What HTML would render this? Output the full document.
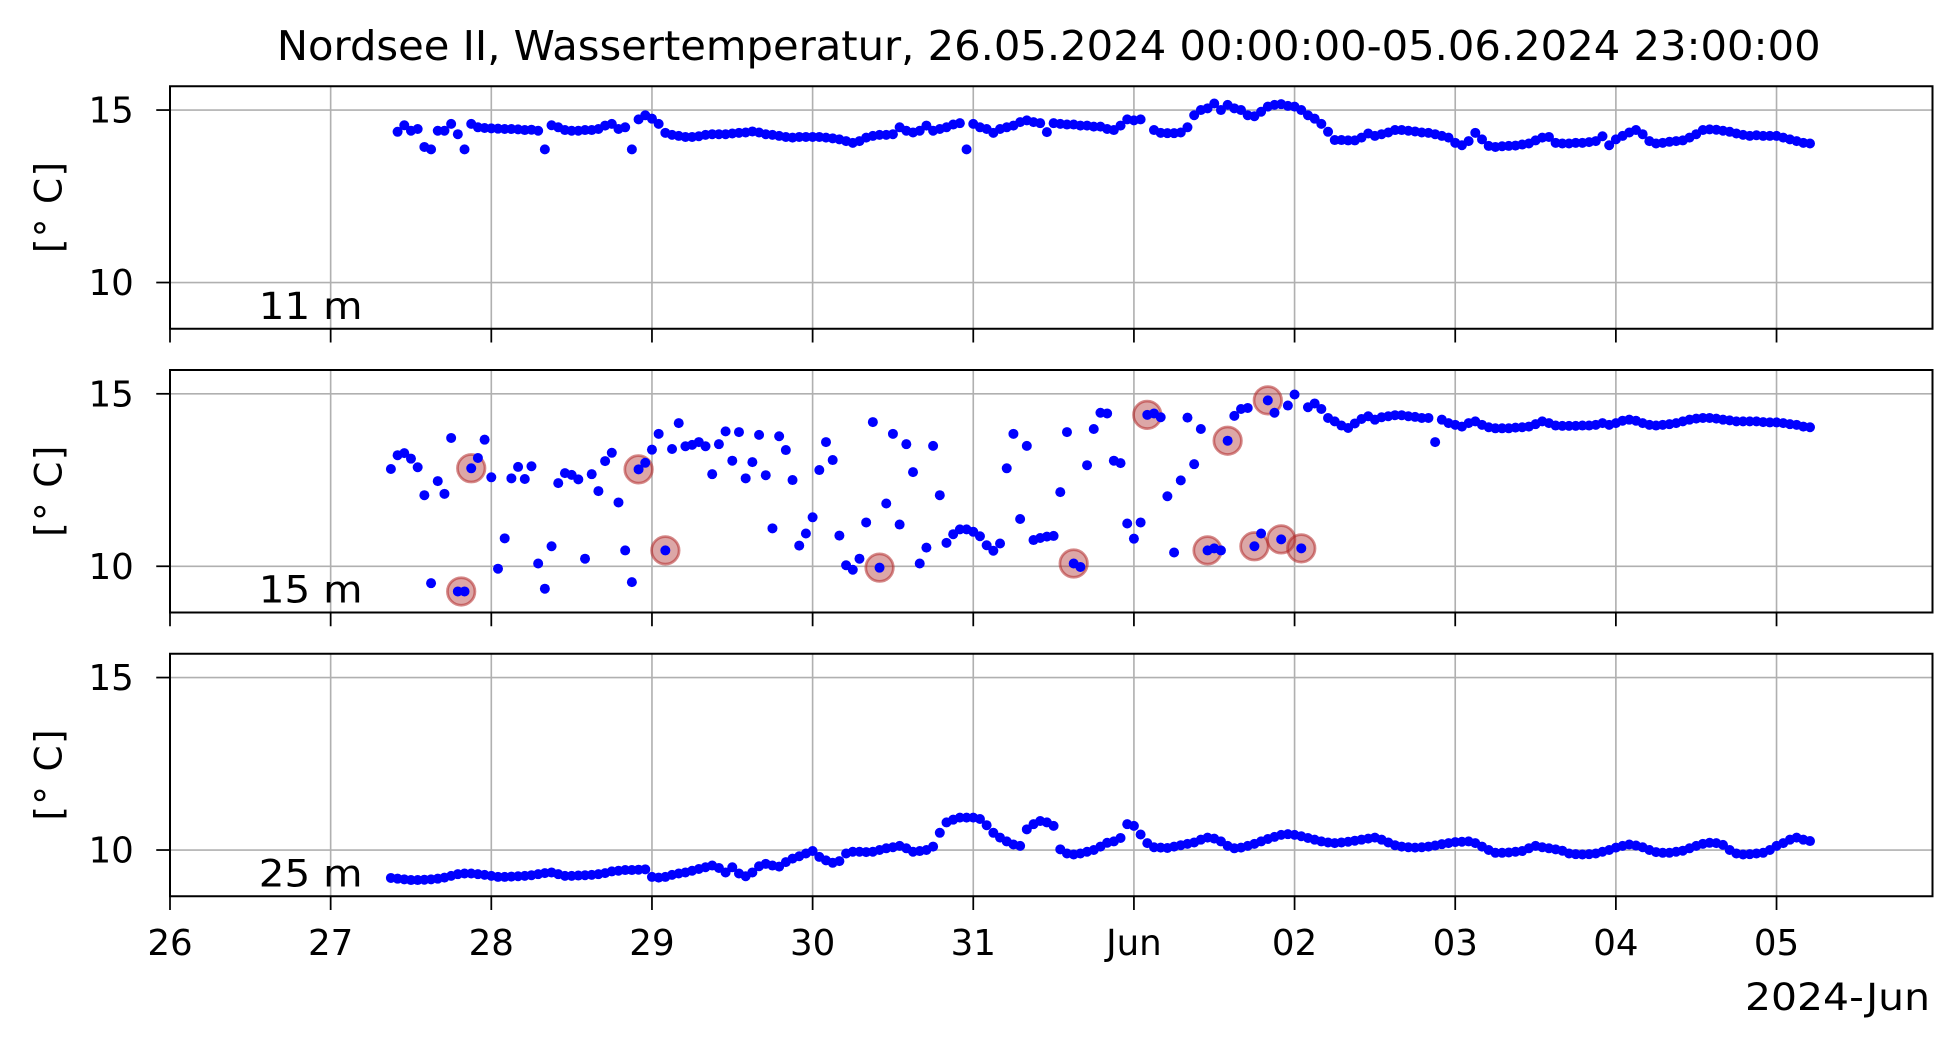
<!DOCTYPE html>
<html><head><meta charset="utf-8"><style>
html,body{margin:0;padding:0;background:#fff;}
svg{display:block;font-family:"DejaVu Sans","Liberation Sans",sans-serif;}
</style></head><body>
<svg id="chart" width="1958" height="1049" viewBox="0 0 1566.4 839.2" xmlns="http://www.w3.org/2000/svg">
<rect width="1566.4" height="839.2" fill="#fff"/>
<text x="839" y="48" font-size="33" text-anchor="middle" textLength="1235" lengthAdjust="spacingAndGlyphs">Nordsee II, Wassertemperatur, 26.05.2024 00:00:00-05.06.2024 23:00:00</text>
<g id="plots"></g>
</svg>
<script>
const tickLabels = ["26","27","28","29","30","31","Jun","02","03","04","05"];
const yTicks = [10, 15];
const depthLabels = ["11 m","15 m","25 m"];

const p1Start = 34;
const p1Vals = [14.37,14.56,14.4,14.45,13.93,13.86,14.4,14.4,14.6,14.3,13.86,14.6,14.5,14.48,
14.47,14.46,14.45,14.45,14.44,14.42,14.43,14.4,13.86,14.56,14.5,14.42,
14.4,14.4,14.42,14.42,14.45,14.55,14.6,14.45,14.5,13.86,14.73,14.85,
14.75,14.6,14.34,14.28,14.25,14.22,14.22,14.24,14.28,14.3,14.3,14.3,
14.32,14.34,14.35,14.38,14.35,14.3,14.28,14.25,14.22,14.2,14.22,14.22,
14.22,14.22,14.2,14.18,14.15,14.1,14.05,14.1,14.2,14.25,14.28,14.28,
14.3,14.5,14.4,14.35,14.4,14.55,14.4,14.45,14.5,14.58,14.62,13.86,
14.6,14.5,14.45,14.34,14.45,14.5,14.55,14.65,14.7,14.65,14.62,14.36,
14.62,14.6,14.58,14.58,14.55,14.55,14.52,14.52,14.45,14.42,14.55,14.73,
14.7,14.73,null,14.42,14.34,14.33,14.33,14.35,14.5,14.85,15.0,15.05,
15.19,15.0,15.15,15.05,15.0,14.85,14.82,14.95,15.1,15.15,15.17,15.12,
15.1,15.0,14.85,14.75,14.6,14.37,14.13,14.13,14.12,14.12,14.2,14.32,
14.25,14.3,14.35,14.42,14.42,14.4,14.38,14.35,14.34,14.3,14.25,14.2,
14.05,13.98,14.1,14.34,14.15,13.96,13.93,13.95,13.96,13.97,14.0,14.03,
14.12,14.2,14.22,14.05,14.03,14.03,14.05,14.05,14.07,14.1,14.24,13.98,
14.15,14.25,14.35,14.42,14.3,14.1,14.03,14.05,14.08,14.1,14.12,14.2,
14.3,14.42,14.44,14.43,14.4,14.37,14.32,14.28,14.25,14.27,14.25,14.25,
14.25,14.2,14.15,14.1,14.05,14.03];

const p2Hours = [33,34,35,36,37,38,39,40,41,42,43,44,45,46,47,48,49,50,51,52,53,54,55,56,57,58,59,60,61,62,63,64,65,66,67,68,69,70,71,72,73,74,75,76,77,78,79,80,81,82,83,84,85,86,87,88,89,90,91,92,93,94,95,96,97,98,99,100,101,102,103,104,105,106,107,108,109,110,111,112,113,114,115,116,117,118,119,120,121,122,123,124,125,126,127,128,129,130,131,132,133,134,135,136,137,138,139,140,141,142,143,144,145,146,147,148,149,150,151,152,153,154,155,156,157,158,159,160,161,162,163,164,165,166,167,168,169,170,171,172,173,174,175,176,177,178,179];
const p2Vals = [12.82,13.22,13.28,13.12,12.87,12.06,9.51,12.47,12.10,13.72,9.27,9.27,12.84,13.14,13.67,12.58,9.93,10.81,12.55,12.88,12.53,12.90,10.08,9.35,10.58,12.41,12.70,12.65,12.52,10.22,12.67,12.18,13.05,13.29,11.85,10.46,9.54,12.81,13.00,13.38,13.84,10.46,13.40,14.15,13.48,13.52,13.60,13.48,12.67,13.54,13.91,13.06,13.89,12.55,13.02,13.81,12.64,11.10,13.77,13.37,12.50,10.60,10.95,11.42,12.79,13.60,13.08,10.89,10.03,9.90,10.22,11.27,14.18,9.96,11.82,13.84,11.21,13.54,12.73,10.08,10.54,13.49,12.06,10.68,10.93,11.07,11.07,11.00,10.87,10.61,10.45,10.66,12.84,13.84,11.37,13.49,10.76,10.82,10.86,10.88,12.15,13.89,10.08,9.98,12.93,13.98,14.45,14.43,13.06,12.99,11.24,10.80,11.27,14.39,14.43,14.32,12.03,10.40,12.49,14.31,12.96,13.98,10.46,10.52,10.46,13.64,14.36,14.56,14.59,10.58,10.95,14.81,14.45,10.78,14.66,14.98,10.52,14.61,14.72,14.56,14.30,14.20,14.08,14.01,14.14,14.27,14.35];
const p2TailStart = 180;
const p2Tail = [14.25,14.32,14.35,14.38,14.38,14.35,14.33,14.3,14.3,13.6,14.25,14.15,
14.1,14.05,14.15,14.2,14.1,14.03,14.0,14.0,14.0,14.02,14.03,14.05,
14.12,14.2,14.15,14.08,14.07,14.07,14.07,14.08,14.08,14.1,14.15,14.1,
14.15,14.22,14.25,14.22,14.15,14.1,14.08,14.1,14.12,14.15,14.2,14.25,
14.28,14.3,14.3,14.28,14.25,14.23,14.2,14.2,14.2,14.2,14.18,14.17,
14.17,14.15,14.12,14.1,14.05,14.03];
const flagHours = [43.5,45,70,74,106,135,146,155,158,162,164,166,169];
const flagVals = [9.27,12.84,12.81,10.46,9.96,10.08,14.39,10.46,13.64,10.58,14.81,10.78,10.52];

const p3Start = 33;
const p3Vals = [9.19,9.17,9.15,9.13,9.13,9.14,9.15,9.17,9.2,9.25,9.3,9.32,9.32,9.3,9.28,
9.25,9.22,9.22,9.23,9.24,9.25,9.27,9.3,9.33,9.35,9.3,9.25,
9.25,9.26,9.27,9.28,9.3,9.33,9.38,9.4,9.42,9.42,9.43,9.44,
9.22,9.2,9.22,9.28,9.32,9.35,9.4,9.45,9.5,9.55,9.48,9.35,
9.5,9.32,9.24,9.35,9.53,9.6,9.55,9.52,9.65,9.75,9.82,9.9,
9.97,9.8,9.7,9.63,9.68,9.9,9.95,9.95,9.94,9.95,10.0,10.05,
10.08,10.12,10.05,9.95,9.97,10.0,10.1,10.5,10.8,10.88,10.94,10.94,
10.94,10.9,10.72,10.5,10.36,10.25,10.16,10.12,10.6,10.75,10.84,10.8,
10.7,10.02,9.9,9.87,9.9,9.95,10.0,10.1,10.21,10.25,10.35,10.75,
10.7,10.45,10.2,10.08,10.07,10.06,10.1,10.14,10.18,10.22,10.3,10.36,
10.33,10.25,10.12,10.05,10.07,10.12,10.18,10.25,10.32,10.38,10.44,10.46,
10.44,10.4,10.35,10.3,10.25,10.22,10.2,10.22,10.24,10.27,10.3,10.33,
10.36,10.3,10.22,10.14,10.1,10.08,10.07,10.08,10.1,10.13,10.17,10.2,
10.23,10.24,10.25,10.2,10.1,10.0,9.92,9.92,9.93,9.95,9.97,10.05,
10.12,10.08,10.05,10.02,9.98,9.9,9.88,9.87,9.88,9.9,9.95,10.0,
10.07,10.12,10.16,10.13,10.08,10.0,9.94,9.92,9.92,9.95,9.98,10.05,
10.12,10.18,10.21,10.2,10.15,10.0,9.9,9.87,9.88,9.9,9.92,10.0,
10.12,10.2,10.3,10.36,10.3,10.26];

const NS = "http://www.w3.org/2000/svg";
const L = 136, R = 1546, H = 194, YMAX = 15.69, YMIN = 8.66;
const tops = [69, 296, 523];
function xS(h){ return L + h / 263.3 * (R - L); }
function yS(v, p){ return tops[p] + (YMAX - v) / (YMAX - YMIN) * H; }
function mk(tag, attrs, parent){ const e = document.createElementNS(NS, tag); for (const k in attrs) e.setAttribute(k, attrs[k]); parent.appendChild(e); return e; }
const root = document.getElementById('plots');

for (let p = 0; p < 3; p++) {
  const g = mk('g', {}, root);
  
  
  for (let d = 1; d < tickLabels.length; d++) {
    const gl = mk('line', {x1: xS(d*24), x2: xS(d*24), y1: tops[p], y2: tops[p]+H, stroke: '#b0b0b0', 'stroke-width': 1.3}, g);
    
    
  }
  yTicks.forEach(v => {
    const gl = mk('line', {x1: L, x2: R, y1: yS(v,p), y2: yS(v,p), stroke: '#b0b0b0', 'stroke-width': 1.3}, g);
    
    
    const tk = mk('line', {x1: L-11, x2: L, y1: yS(v,p), y2: yS(v,p), stroke: '#000', 'stroke-width': 1.4}, g);
    
    
    const tl = mk('text', {x: 107, y: yS(v,p)+10, 'font-size': 28.5, 'text-anchor': 'end'}, g);
    tl.textContent = String(v);
    
    
  });
  for (let d = 0; d < tickLabels.length; d++) {
    const tk = mk('line', {x1: xS(d*24), x2: xS(d*24), y1: tops[p]+H, y2: tops[p]+H+11, stroke: '#000', 'stroke-width': 1.4}, g);
    
    
    if (p === 2) {
      const tl = mk('text', {x: xS(d*24), y: 764, 'font-size': 28.5, 'text-anchor': 'middle'}, g);
      tl.textContent = tickLabels[d];
      
      
    }
  }
  const yl = mk('text', {x: 0, y: 0, 'font-size': 30, 'text-anchor': 'middle', textLength: 73, lengthAdjust: 'spacing', transform: 'translate(49,' + (tops[p]+97) + ') rotate(-90)'}, g);
  yl.textContent = '[° C]';
  
  
  const dl = mk('text', {x: 207, y: tops[p]+186, 'font-size': 30, textLength: 83, lengthAdjust: 'spacingAndGlyphs'}, g);
  dl.textContent = depthLabels[p];
  
  
  const dots = mk('g', {fill: '#0000ff'}, g);
  
  
  function dot(h, v) {
    if (v === null || v === undefined || h === undefined) return;
    const c = mk('circle', {cx: xS(h), cy: yS(v,p), r: 4}, dots);
    
    
  }
  if (p === 0) p1Vals.forEach((v,i) => dot(p1Start+i, v));
  if (p === 1) {
    flagHours.forEach((h,i) => {
      const c = mk('circle', {cx: xS(h), cy: yS(flagVals[i],p), r: 11, fill: 'rgba(178,60,60,0.45)', stroke: 'rgba(178,40,40,0.55)', 'stroke-width': 2.2}, g);
      
      
    });
    g.appendChild(dots);
    p2Vals.forEach((v,i) => dot(p2Hours[i], v));
    p2Tail.forEach((v,i) => dot(p2TailStart+i, v));
  }
  if (p === 2) p3Vals.forEach((v,i) => dot(p3Start+i, v));
  const fr = mk('rect', {x: L, y: tops[p], width: R-L, height: H, fill: 'none', stroke: '#000', 'stroke-width': 1.6}, g);
  
  
}
const off = mk('text', {x: 1544, y: 808, 'font-size': 30, 'text-anchor': 'end', textLength: 148, lengthAdjust: 'spacingAndGlyphs'}, root);
off.textContent = '2024-Jun';


</script>
</body></html>
